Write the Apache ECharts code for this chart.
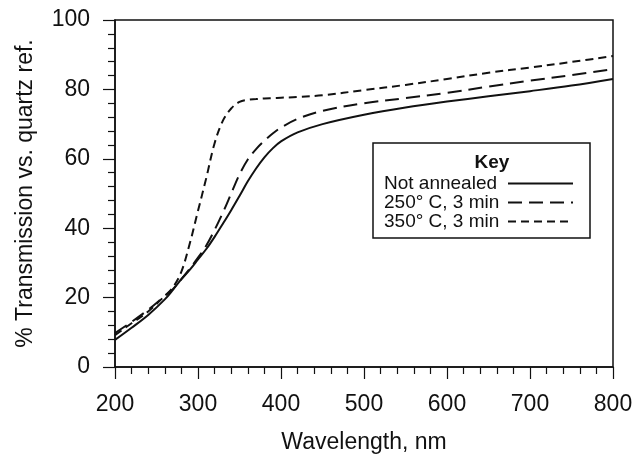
<!DOCTYPE html>
<html>
<head>
<meta charset="utf-8">
<script src="https://cdn.jsdelivr.net/npm/echarts@6/dist/echarts.min.js"></script>
<style>
  html, body { margin: 0; padding: 0; background: #fff; }
  #chart { width: 637px; height: 459px; }
</style>
</head>
<body>
<div id="chart"></div>
<script>
// wavelength, nm
const wavelengths = [200, 220, 240, 260, 270, 280, 290, 300, 310, 320, 330, 340, 350, 360, 370, 380, 390, 400, 420, 450, 500, 550, 600, 650, 700, 750, 800];
// % transmission vs. quartz ref.
const notAnnealed = [7.8, 11.3, 15, 19.5, 22.3, 25.3, 28, 31, 34, 37.5, 41.3, 45.2, 49.3, 53.5, 57.2, 60.4, 63, 65, 67.6, 70, 72.7, 74.8, 76.5, 78, 79.5, 81.1, 83];
const annealed250 = [9.8, 13, 16.5, 20.5, 22.5, 25.3, 28.3, 31.5, 35, 39.5, 44.5, 50, 55.5, 59.8, 62.8, 65.2, 67.3, 69, 71.5, 73.8, 76, 77.5, 79, 80.8, 82.5, 84.1, 85.8];
const annealed350 = [9.2, 12.6, 16, 20.5, 23, 27.5, 35.5, 45, 54.5, 64.5, 71, 74.5, 76.4, 77, 77.2, 77.4, 77.5, 77.6, 77.8, 78.3, 79.8, 81.3, 83, 84.8, 86.3, 87.9, 89.6];
const seriesNames = ['Not annealed', '250° C, 3 min', '350° C, 3 min'];
const xTicks = { min: 200, max: 800, interval: 100 };
const yTicks = { min: 0, max: 100, interval: 20 };

const ink = '#111';
const font = 'Liberation Sans, Arial, sans-serif';

const pairs = (ys) => wavelengths.map((x, i) => [x, ys[i]]);

const makeSeries = (name, ys, type, width) => ({
  name: name,
  type: 'line',
  data: pairs(ys),
  symbol: 'none',
  smooth: 0.35,
  lineStyle: { color: ink, width: width, type: type },
  itemStyle: { color: ink },
  emphasis: { disabled: true },
});

const myChart = echarts.init(document.getElementById('chart'));

const option = {
  animation: false,
  backgroundColor: '#fff',
  grid: {
    left: 115,
    right: 24,
    top: 20,
    bottom: 92,
    show: true,
    borderColor: ink,
    borderWidth: 1.5,
    backgroundColor: 'transparent',
  },
  xAxis: {
    type: 'value',
    min: xTicks.min,
    max: xTicks.max,
    interval: xTicks.interval,
    name: 'Wavelength, nm',
    nameLocation: 'middle',
    nameGap: 64,
    nameTextStyle: { color: ink, fontSize: 23, fontFamily: font },
    axisLine: { lineStyle: { color: ink, width: 1.5 } },
    axisTick: { length: 12, lineStyle: { color: ink, width: 1.2 } },
    minorTick: { show: true, splitNumber: 5, length: 7, lineStyle: { color: ink, width: 1.2 } },
    axisLabel: { color: ink, fontSize: 23, fontFamily: font, margin: 26 },
    splitLine: { show: false },
  },
  yAxis: {
    type: 'value',
    min: yTicks.min,
    max: yTicks.max,
    interval: yTicks.interval,
    name: '% Transmission vs. quartz ref.',
    nameLocation: 'middle',
    nameGap: 78,
    nameTextStyle: { color: ink, fontSize: 23, fontFamily: font },
    axisLine: { show: true, lineStyle: { color: ink, width: 1.5 } },
    axisTick: { show: true, length: 12, lineStyle: { color: ink, width: 1.2 } },
    minorTick: { show: true, splitNumber: 5, length: 7, lineStyle: { color: ink, width: 1.2 } },
    axisLabel: { color: ink, fontSize: 23, fontFamily: font, margin: 25 },
    splitLine: { show: false },
  },
  legend: {
    orient: 'vertical',
    left: 379,
    top: 169,
    align: 'right',
    itemWidth: 65,
    itemHeight: 14,
    itemGap: 0,
    selectedMode: false,
    data: seriesNames,
    itemStyle: { opacity: 0 },
    formatter: (name) => '{t|' + name + '}',
    textStyle: {
      color: ink,
      fontSize: 19,
      lineHeight: 19,
      fontFamily: font,
      rich: {
        t: { width: 119, align: 'left', color: ink, fontSize: 19, lineHeight: 19, fontFamily: font },
      },
    },
  },
  graphic: [
    {
      type: 'rect',
      z: 1,
      shape: { x: 373, y: 143, width: 217, height: 95 },
      style: { fill: '#fff', stroke: ink, lineWidth: 1.5 },
    },
    {
      type: 'text',
      z: 2,
      x: 492,
      y: 163,
      style: {
        text: 'Key',
        fill: ink,
        font: 'bold 19px ' + font,
        textAlign: 'center',
        textVerticalAlign: 'middle',
      },
    },
  ],
  series: [
    makeSeries(seriesNames[0], notAnnealed, 'solid', 2),
    makeSeries(seriesNames[1], annealed250, [14, 7], 2),
    makeSeries(seriesNames[2], annealed350, [8, 5], 2),
  ],
};

myChart.setOption(option);
</script>
</body>
</html>
